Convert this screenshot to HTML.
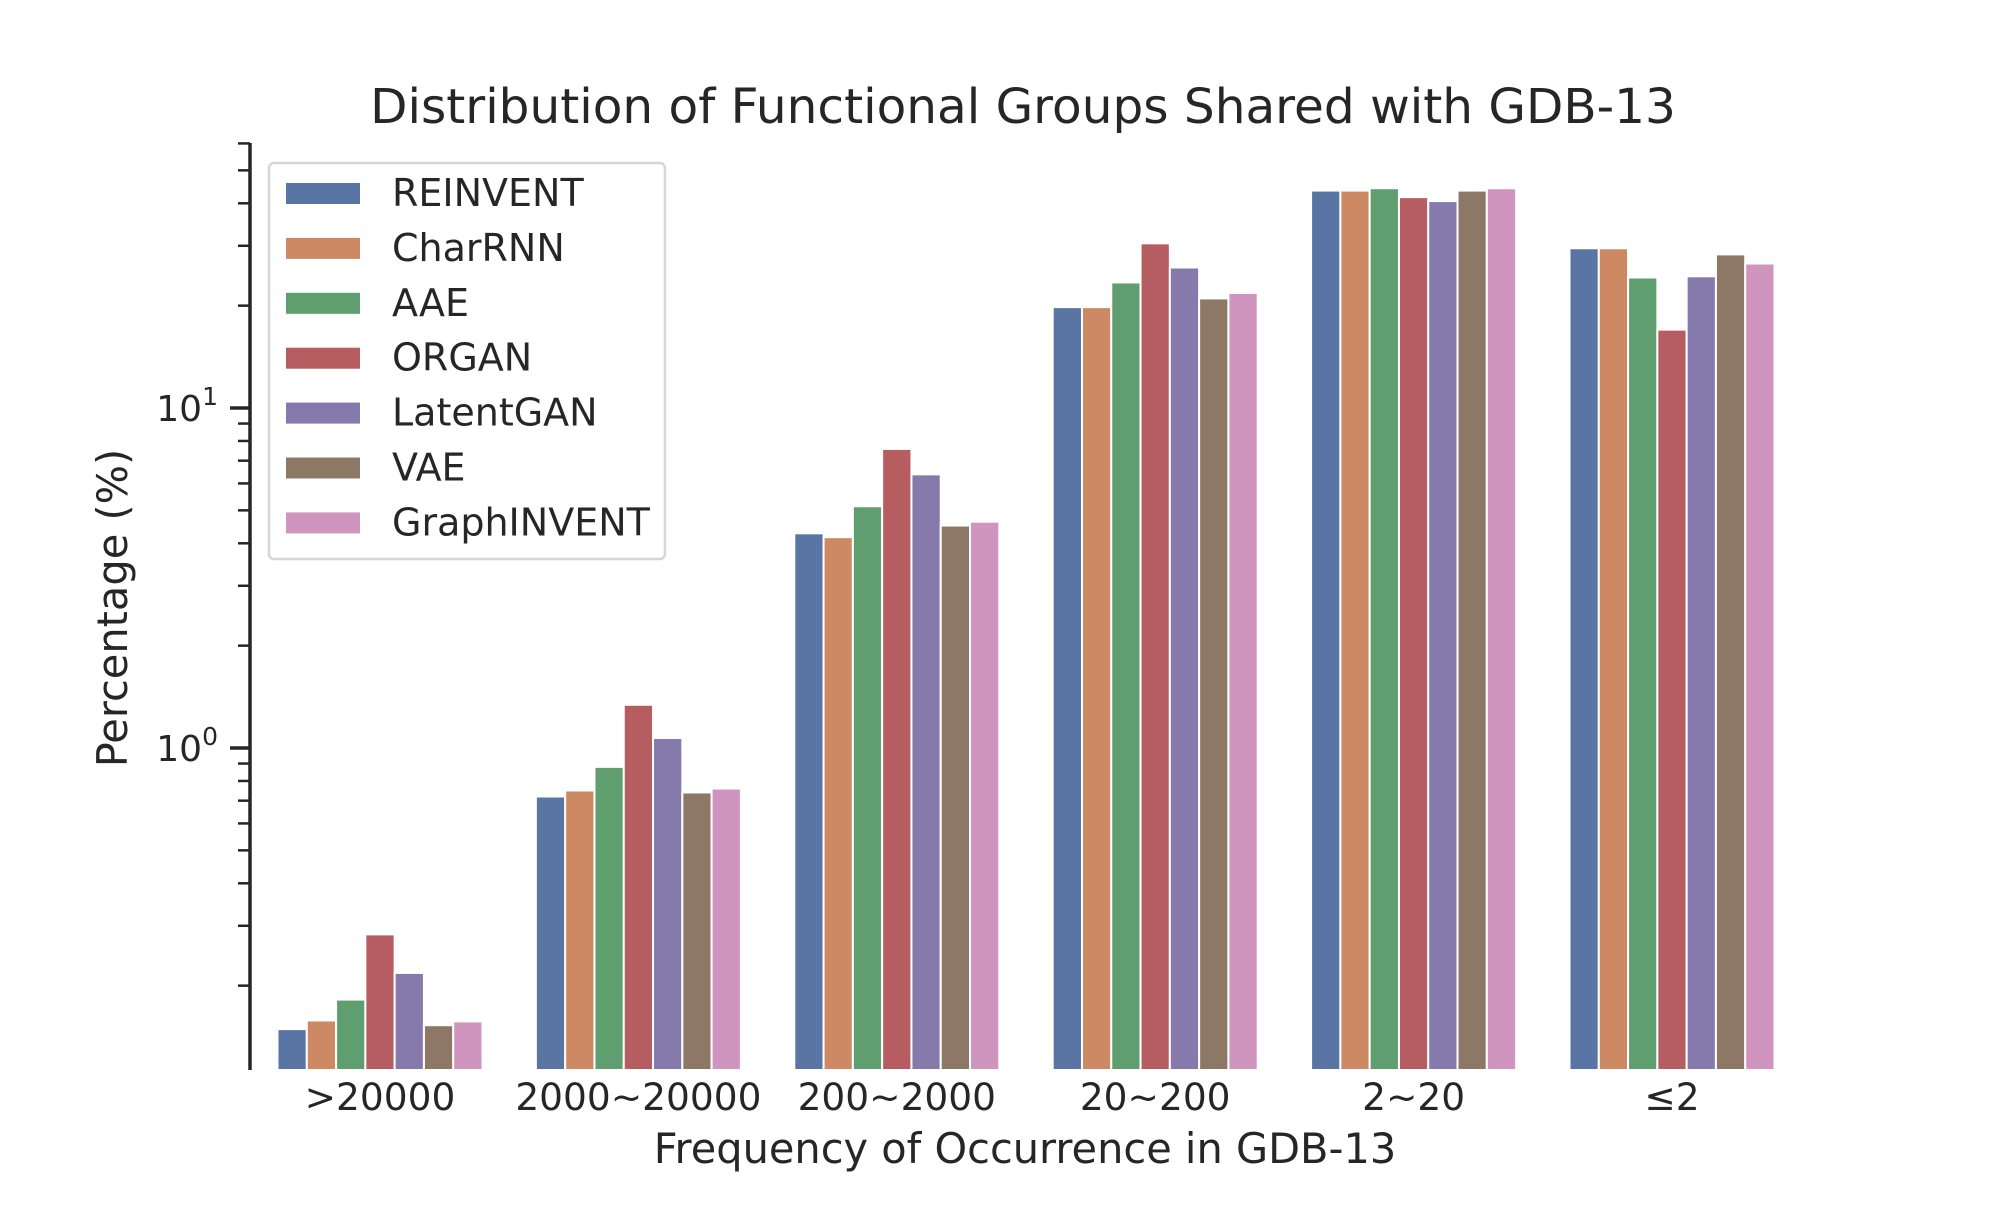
<!DOCTYPE html>
<html><head><meta charset="utf-8"><style>
html,body{margin:0;padding:0;background:#fff;}
svg text{font-family:"DejaVu Sans","Liberation Sans",sans-serif;fill:#262626;}
</style></head><body>
<svg id="chart" width="2000" height="1200" viewBox="0 0 2000 1200" xmlns="http://www.w3.org/2000/svg">
<rect width="2000" height="1200" fill="#fff"/>
<text x="1023" y="123" font-size="48.5" text-anchor="middle">Distribution of Functional Groups Shared with GDB-13</text>
<text transform="translate(127,608) rotate(-90)" font-size="41.5" text-anchor="middle">Percentage (%)</text>
<text x="1025" y="1163" font-size="41.5" text-anchor="middle">Frequency of Occurrence in GDB-13</text>
<g id="bars"></g>
<g id="axes"></g>
<g id="legend"></g>
</svg>
<script>
const categories = [">20000","2000~20000","200~2000","20~200","2~20","≤2"];
const seriesNames = ["REINVENT","CharRNN","AAE","ORGAN","LatentGAN","VAE","GraphINVENT"];
const REINVENT   = [0.149, 0.72, 4.28, 19.8, 43.6, 29.5];
const CharRNN    = [0.158, 0.75, 4.17, 19.8, 43.6, 29.5];
const AAE        = [0.182, 0.88, 5.14, 23.4, 44.3, 24.2];
const ORGAN      = [0.283, 1.34, 7.58, 30.5, 41.7, 17.0];
const LatentGAN  = [0.218, 1.07, 6.38, 25.9, 40.6, 24.4];
const VAE        = [0.153, 0.74, 4.51, 21.0, 43.6, 28.3];
const GraphINVENT= [0.157, 0.76, 4.63, 21.8, 44.3, 26.6];
const seriesValues = [REINVENT,CharRNN,AAE,ORGAN,LatentGAN,VAE,GraphINVENT];
const colors = ["#5975a4","#cc8963","#5f9e6e","#b55d60","#857aab","#8d7866","#d095bf"];
const yMajorTicks = [1, 10];
const yMajorLabels = ["0","1"];

const NS="http://www.w3.org/2000/svg";
const axL=250, axB=1070, axT=143;
const y10=408, decade=340;
function y(v){return y10-(Math.log10(v)-1)*decade;}
const c0=380, step=258.4, groupW=205;
function xc(i){return c0+i*step;}
function mk(tag,attrs,parent){const e=document.createElementNS(NS,tag);for(const k in attrs)e.setAttribute(k,attrs[k]);parent.appendChild(e);return e;}

const bars=document.getElementById('bars');
const bw=groupW/seriesNames.length;
seriesValues.forEach((vals,s)=>{
  vals.forEach((v,i)=>{
    const x=xc(i)-groupW/2+s*bw;
    const r=mk('rect',{x:x,y:y(v),width:bw,height:axB-y(v),fill:colors[s],stroke:'#fff','stroke-width':2},bars);
    
    
  });
});

const axes=document.getElementById('axes');
const yl=mk('line',{x1:axL,y1:axT,x2:axL,y2:axB,stroke:'#262626','stroke-width':3.5},axes);


[0.2,0.3,0.4,0.5,0.6,0.7,0.8,0.9,2,3,4,5,6,7,8,9,20,30,40,50,60].forEach(v=>{
  const yy=y(v); if(yy<axT-1||yy>axB) return;
  const t=mk('line',{x1:axL-12,y1:yy,x2:axL,y2:yy,stroke:'#262626','stroke-width':2.5},axes);
  
  
});
yMajorTicks.forEach((v,k)=>{
  const yy=y(v);
  const t=mk('line',{x1:axL-20,y1:yy,x2:axL,y2:yy,stroke:'#262626','stroke-width':3.5},axes);
  
  
  const tx=mk('text',{x:axL-32,y:yy+13,'font-size':36,'text-anchor':'end'},axes);
  
  
  tx.textContent='10';
  const sp=mk('tspan',{dy:-16,'font-size':25},tx);sp.textContent=yMajorLabels[k];
});
categories.forEach((c,i)=>{
  const t=mk('text',{x:xc(i),y:1110,'font-size':37.5,'text-anchor':'middle'},axes);
  
  
  t.textContent=c;
});

const lg=document.getElementById('legend');
const box=mk('rect',{x:269,y:163,width:396,height:396,rx:5,fill:'#fff',stroke:'#d6d6d6','stroke-width':2.5},lg);


seriesNames.forEach((n,s)=>{
  const yy=193+s*54.9;
  const p=mk('rect',{x:286,y:yy-10,width:74,height:21,fill:colors[s]},lg);
  
  
  const t=mk('text',{x:392,y:yy+13,'font-size':38},lg);
  
  
  t.textContent=n;
});
</script>
</body></html>
